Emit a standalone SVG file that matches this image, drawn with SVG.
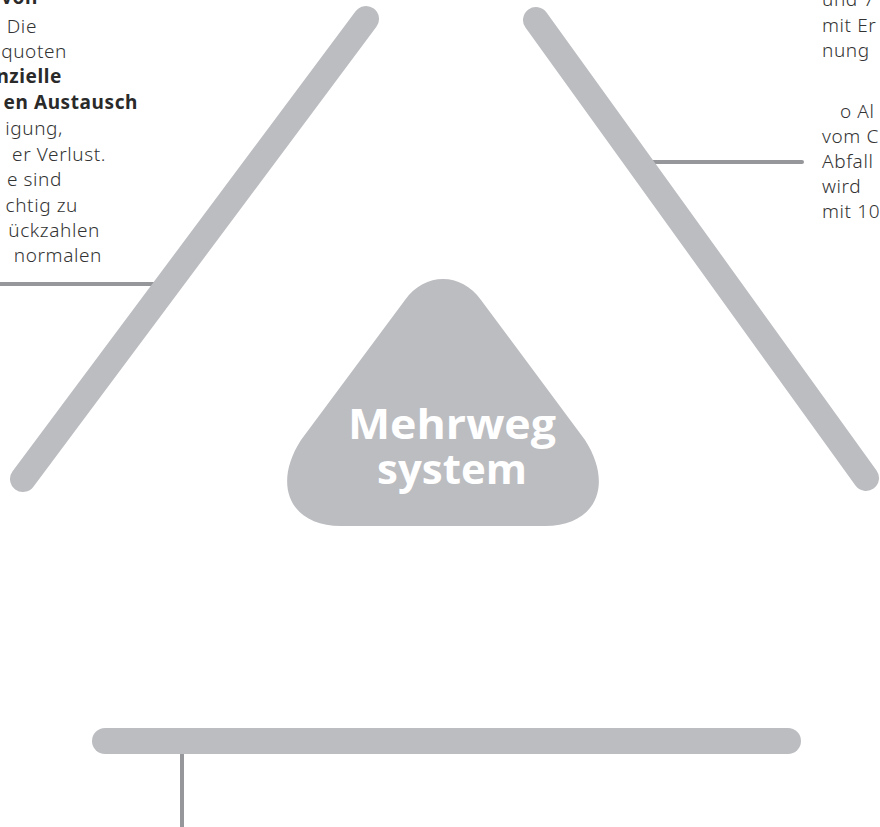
<svg xmlns="http://www.w3.org/2000/svg" width="880" height="827" viewBox="0 0 880 827">
  <style>
    .bar { stroke: #bcbdc1; stroke-width: 26; stroke-linecap: round; fill: none; }
    .conn { stroke: #96979b; stroke-width: 4; stroke-linecap: round; fill: none; }
    .txt { font-family: "Noto Sans", "Open Sans", "Liberation Sans", sans-serif; font-size: 19px; font-weight: 300; fill: #333333; letter-spacing: 0.6px; }
    .b { font-weight: 700; fill: #2a2a2a; }
    .title { font-family: "Open Sans", "Noto Sans", "Liberation Sans", sans-serif; font-weight: 700; font-size: 41px; fill: #ffffff; text-anchor: middle; }
  </style>
  <rect width="880" height="827" fill="#ffffff"/>
  <g id="connectors">
    <line class="conn" x1="-5" y1="284" x2="165" y2="284" stroke-linecap="butt"/>
    <line class="conn" x1="640" y1="162" x2="802" y2="162"/>
    <line class="conn" x1="182" y1="745" x2="182" y2="832" stroke-width="3.5" stroke-linecap="butt"/>
  </g>
  <g id="bar-left">
    <line class="bar" x1="23" y1="479" x2="366" y2="19"/>
  </g>
  <g id="bar-right">
    <line class="bar" x1="536" y1="20" x2="866" y2="478"/>
  </g>
  <g id="bar-bottom">
    <rect x="92" y="728" width="709" height="26" rx="13" fill="#bcbdc1"/>
  </g>
  <g id="center">
    <path d="M 405 300 C 425 272, 461 272, 481 300 L 585 440 C 614 485, 596 526, 545 526 L 341 526 C 290 526, 272 485, 301 440 Z" fill="#bcbdc1"/>
    <text class="title" x="452" y="439" textLength="208" lengthAdjust="spacingAndGlyphs">Mehrweg</text>
    <text class="title" x="452" y="484" textLength="150" lengthAdjust="spacingAndGlyphs">system</text>
  </g>
  <g id="text-left" class="txt" text-anchor="end">
    <text class="b" x="38" y="4">von</text>
    <text x="37" y="33">Die</text>
    <text x="67" y="58">quoten</text>
    <text class="b" x="62" y="83">nzielle</text>
    <text class="b" x="138" y="109">en Austausch</text>
    <text x="63" y="135">igung,</text>
    <text x="106" y="161">er Verlust.</text>
    <text x="62" y="186">e sind</text>
    <text x="78" y="212">chtig zu</text>
    <text x="100" y="237">ückzahlen</text>
    <text x="102" y="262">normalen</text>
  </g>
  <g id="text-right" class="txt">
    <text x="822" y="6">und 7</text>
    <text x="822" y="32">mit Er</text>
    <text x="822" y="57">nung</text>
    <text x="840" y="118">o Al</text>
    <text x="822" y="143">vom C</text>
    <text x="822" y="168">Abfall</text>
    <text x="822" y="193">wird</text>
    <text x="822" y="218">mit 10</text>
  </g>
</svg>
